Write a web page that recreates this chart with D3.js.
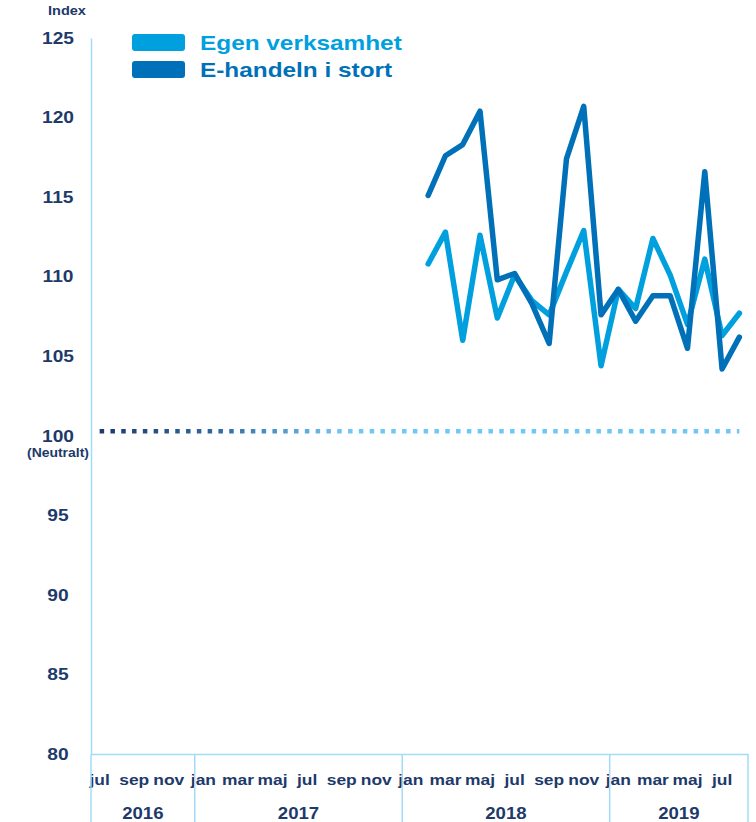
<!DOCTYPE html>
<html>
<head>
<meta charset="utf-8">
<script src="https://cdn.jsdelivr.net/npm/d3@7"></script>
<style>
  body { margin: 0; background: #fff; }
  text { font-family: "Liberation Sans", Arial, sans-serif; font-weight: bold; }
</style>
</head>
<body>
<div id="chart"></div>
<script>
// months on the x axis, jul 2016 - aug 2019
var periods = [
  "2016-07","2016-08","2016-09","2016-10","2016-11","2016-12",
  "2017-01","2017-02","2017-03","2017-04","2017-05","2017-06",
  "2017-07","2017-08","2017-09","2017-10","2017-11","2017-12",
  "2018-01","2018-02","2018-03","2018-04","2018-05","2018-06",
  "2018-07","2018-08","2018-09","2018-10","2018-11","2018-12",
  "2019-01","2019-02","2019-03","2019-04","2019-05","2019-06",
  "2019-07","2019-08"
];
var monthNames = ["jan","feb","mar","apr","maj","jun","jul","aug","sep","okt","nov","dec"];
var years = ["2016","2017","2018","2019"];
var yTicks = [80, 85, 90, 95, 100, 105, 110, 115, 120, 125];

// series start feb 2018
var seriesStart = "2018-02";
var egenVerksamhet = [110.8, 112.8, 106.0, 112.6, 107.4, 110.1, 108.5, 107.6, 110.3, 112.9,
                      104.4, 109.2, 108.0, 112.4, 110.1, 107.0, 111.1, 106.3, 107.7];
var ehandelnIStort = [115.1, 117.6, 118.3, 120.4, 109.8, 110.2, 108.3, 105.8, 117.4, 120.7,
                      107.6, 109.2, 107.2, 108.8, 108.8, 105.5, 116.6, 104.2, 106.2];
// neutral level, drawn over the whole period
var neutralValue = 100.28;

var width = 756, height = 822;
var margin = {top: 38, left: 91, right: 8, bottom: 68};

var svg = d3.select("#chart").append("svg")
    .attr("width", width)
    .attr("height", height);

var navy = "#1d3a6a", axisCol = "#a3dbf6";
var lightBlue = "#00a0df", darkBlue = "#0071b8";

var x = d3.scaleBand()
    .domain(periods)
    .range([margin.left, width - margin.right]);

var y = d3.scaleLinear()
    .domain([80, 125])
    .range([height - margin.bottom, margin.top]);

var cx = function(p) { return x(p) + x.bandwidth() / 2; };

// y axis
var yAxis = svg.append("g")
    .attr("transform", "translate(" + margin.left + ",0)")
    .call(d3.axisLeft(y).tickValues(yTicks).tickSize(0).tickFormat(d3.format("d")));
yAxis.select(".domain").attr("stroke", axisCol).attr("stroke-width", 1.5);
yAxis.selectAll("text")
    .attr("x", -33)
    .attr("text-anchor", "middle")
    .attr("fill", navy)
    .style("font-size", "16.5px")
    .attr("class", "stretch");

svg.append("text")
    .attr("x", 58).attr("y", y(100) + 21)
    .attr("text-anchor", "middle")
    .attr("fill", navy)
    .style("font-size", "12px")
    .attr("class", "stretch")
    .text("(Neutralt)");

svg.append("text")
    .attr("x", 67).attr("y", 15)
    .attr("text-anchor", "middle")
    .attr("fill", navy)
    .style("font-size", "12.5px")
    .attr("class", "stretch")
    .text("Index");

// x axis, month labels every second month
var xAxis = svg.append("g")
    .attr("transform", "translate(0," + y(80) + ")")
    .call(d3.axisBottom(x)
        .tickValues(periods.filter(function(d, i) { return i % 2 == 0; }))
        .tickSize(0).tickPadding(20)
        .tickFormat(function(d) { return monthNames[+d.slice(5) - 1]; }));
xAxis.select(".domain").attr("stroke", axisCol).attr("stroke-width", 1.5);
xAxis.selectAll("text")
    .attr("fill", navy)
    .style("font-size", "15px")
    .attr("class", "stretch");

// year separators and labels
var bounds = [];
years.forEach(function(yr) {
  var ps = periods.filter(function(p) { return p.slice(0, 4) == yr; });
  bounds.push({year: yr, x0: x(ps[0]), x1: x(ps[ps.length - 1]) + x.bandwidth()});
});
var seps = [bounds[0].x0].concat(bounds.map(function(b) { return b.x1; }));
svg.selectAll(".sep").data(seps).enter().append("line")
    .attr("x1", function(d) { return d; }).attr("x2", function(d) { return d; })
    .attr("y1", y(80)).attr("y2", height)
    .attr("stroke", axisCol).attr("stroke-width", 1.5);
svg.selectAll(".year").data(bounds).enter().append("text")
    .attr("x", function(d) { return (d.x0 + d.x1) / 2; })
    .attr("y", 819)
    .attr("text-anchor", "middle")
    .attr("fill", navy)
    .style("font-size", "16px")
    .attr("class", "stretch")
    .text(function(d) { return d.year; });

// neutral dotted line with gradient
var grad = svg.append("defs").append("linearGradient")
    .attr("id", "neutralGrad")
    .attr("gradientUnits", "userSpaceOnUse")
    .attr("x1", cx(periods[0])).attr("x2", cx(periods[periods.length - 1]))
    .attr("y1", 0).attr("y2", 0);
grad.append("stop").attr("offset", "0%").attr("stop-color", "#1d3a6a");
grad.append("stop").attr("offset", "18%").attr("stop-color", "#2f68a3");
grad.append("stop").attr("offset", "38%").attr("stop-color", "#6fc7f6");
grad.append("stop").attr("offset", "100%").attr("stop-color", "#6fc7f6");

var line = d3.line()
    .x(function(d) { return cx(d.p); })
    .y(function(d) { return y(d.v); });

svg.append("path")
    .datum(periods.map(function(p) { return {p: p, v: neutralValue}; }))
    .attr("d", line)
    .attr("fill", "none")
    .attr("stroke", "url(#neutralGrad)")
    .attr("stroke-width", 4.5)
    .attr("stroke-dasharray", "4.5,6.3");

// data lines
var startIdx = periods.indexOf(seriesStart);
function toPoints(vals) {
  return vals.map(function(v, i) { return {p: periods[startIdx + i], v: v}; });
}
[[egenVerksamhet, lightBlue], [ehandelnIStort, darkBlue]].forEach(function(s) {
  svg.append("path")
      .datum(toPoints(s[0]))
      .attr("d", line)
      .attr("fill", "none")
      .attr("stroke", s[1])
      .attr("stroke-width", 5.5)
      .attr("stroke-linejoin", "round")
      .attr("stroke-linecap", "round");
});

// legend
var legend = [
  {name: "Egen verksamhet", color: lightBlue, y: 34},
  {name: "E-handeln i stort", color: darkBlue, y: 61}
];
var lg = svg.selectAll(".legend").data(legend).enter().append("g");
lg.append("rect")
    .attr("x", 132).attr("y", function(d) { return d.y; })
    .attr("width", 53).attr("height", 17).attr("rx", 3)
    .attr("fill", function(d) { return d.color; });
lg.append("text")
    .attr("x", 200).attr("y", function(d) { return d.y + 16; })
    .attr("fill", function(d) { return d.color; })
    .style("font-size", "21px")
    .attr("class", "stretch")
    .text(function(d) { return d.name; });

// fonts in the original are wider than Liberation Sans
svg.selectAll("text.stretch").each(function() {
  var w = this.getComputedTextLength();
  d3.select(this).attr("textLength", w * 1.16).attr("lengthAdjust", "spacingAndGlyphs");
});
</script>
</body>
</html>
